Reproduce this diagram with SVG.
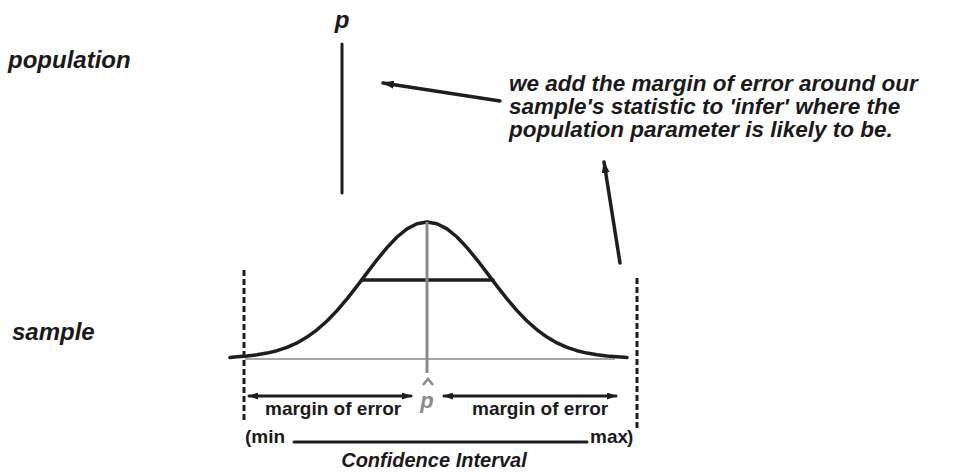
<svg xmlns="http://www.w3.org/2000/svg" width="964" height="475" viewBox="0 0 964 475">
<style>
.lbl{font-family:"Liberation Sans",Arial,sans-serif;font-weight:bold;font-style:italic;fill:#1a1a1a}
.sm{font-family:"Liberation Sans",Arial,sans-serif;font-weight:bold;fill:#1a1a1a;font-size:19px}
.ln{stroke:#1e1e1e;fill:none;stroke-linecap:round}
.dash{stroke:#1e1e1e;stroke-width:3;stroke-dasharray:6 3;fill:none}
.gray{stroke:#8a8a8a;fill:none}
</style>
<defs>
<marker id="ah" viewBox="0 0 12 8" refX="11" refY="4" markerWidth="12" markerHeight="8" markerUnits="userSpaceOnUse" orient="auto-start-reverse">
<path d="M0,0 L12,4 L0,8 Z" fill="#1e1e1e"/>
</marker>
<marker id="ahs" viewBox="0 0 10 7" refX="9" refY="3.5" markerWidth="10" markerHeight="7" markerUnits="userSpaceOnUse" orient="auto-start-reverse">
<path d="M0,0 L10,3.5 L0,7 Z" fill="#1e1e1e"/>
</marker>
</defs>
<rect width="964" height="475" fill="#fff"/>
<g id="population-label"><text class="lbl" x="8" y="68" font-size="24">population</text></g>
<g id="sample-label"><text class="lbl" x="12" y="340" font-size="24">sample</text></g>
<g id="p-param">
<text class="lbl" x="342" y="28" font-size="24" text-anchor="middle">p</text>
<line class="ln" x1="342" y1="44" x2="342" y2="193" stroke-width="3"/>
</g>
<g id="note">
<text class="lbl" x="509" y="91" font-size="22.5">we add the margin of error around our</text>
<text class="lbl" x="509" y="114" font-size="22.5">sample's statistic to 'infer' where the</text>
<text class="lbl" x="509" y="137" font-size="22.5">population parameter is likely to be.</text>
</g>
<g id="distribution">
<line class="gray" x1="245" y1="359" x2="615" y2="359" stroke-width="1.5"/>
<path class="ln" stroke-width="3.5" stroke-linejoin="round" d="M230,357.5 L237,356.8 L247,356 L257,354.8 L267,353.1 L277,350.7 L287,347.4 L297,342.9 L307,337.1 L317,329.8 L327,321 L337,310.6 L347,298.8 L357,286.1 L367,272.9 L377,259.8 L387,247.6 L397,237 L407,228.9 L417,223.8 L427,222 L437,223.8 L447,228.9 L457,237 L467,247.6 L477,259.8 L487,272.9 L497,286.1 L507,298.8 L517,310.6 L527,321 L537,329.8 L547,337.1 L557,342.9 L567,347.4 L577,350.7 L587,353.1 L597,354.8 L607,356 L617,356.8 L627,357.5"/>
<line class="ln" x1="362" y1="280" x2="493" y2="280" stroke-width="3.5"/>
<line class="gray" x1="427" y1="222" x2="427" y2="373" stroke-width="3"/>
</g>
<g id="p-hat">
<text x="427" y="408" font-family="'Liberation Sans',Arial,sans-serif" font-style="italic" font-weight="bold" font-size="22" fill="#8a8a8a" text-anchor="middle">p</text>
<path d="M423,385 L428,379 L433,385" fill="none" stroke="#8a8a8a" stroke-width="2.5"/>
</g>
<g id="bounds">
<line class="dash" x1="244" y1="270" x2="244" y2="420"/>
<line class="dash" x1="637" y1="278" x2="637" y2="428"/>
</g>
<g id="margins">
<text class="sm" x="265" y="415">margin of error</text>
<text class="sm" x="472" y="415">margin of error</text>
</g>
<g id="interval">
<text class="sm" x="245" y="443">(min</text>
<text class="sm" x="590" y="443">max</text>
<text class="sm" x="627" y="443">)</text>
<text class="lbl" x="434" y="467" font-size="20" text-anchor="middle">Confidence Interval</text>
</g>
<g id="connectors">
<line class="ln" x1="500" y1="101" x2="383" y2="83" stroke-width="3.5" marker-end="url(#ah)"/>
<line class="ln" x1="620" y1="263" x2="604" y2="162" stroke-width="3.5" marker-end="url(#ah)"/>
<line class="ln" x1="249" y1="396" x2="411" y2="396" stroke-width="3" marker-start="url(#ahs)" marker-end="url(#ahs)"/>
<line class="ln" x1="444" y1="396" x2="616" y2="396" stroke-width="3" marker-start="url(#ahs)" marker-end="url(#ahs)"/>
<line class="ln" x1="294" y1="442" x2="587" y2="442" stroke-width="3"/>
</g>
</svg>
